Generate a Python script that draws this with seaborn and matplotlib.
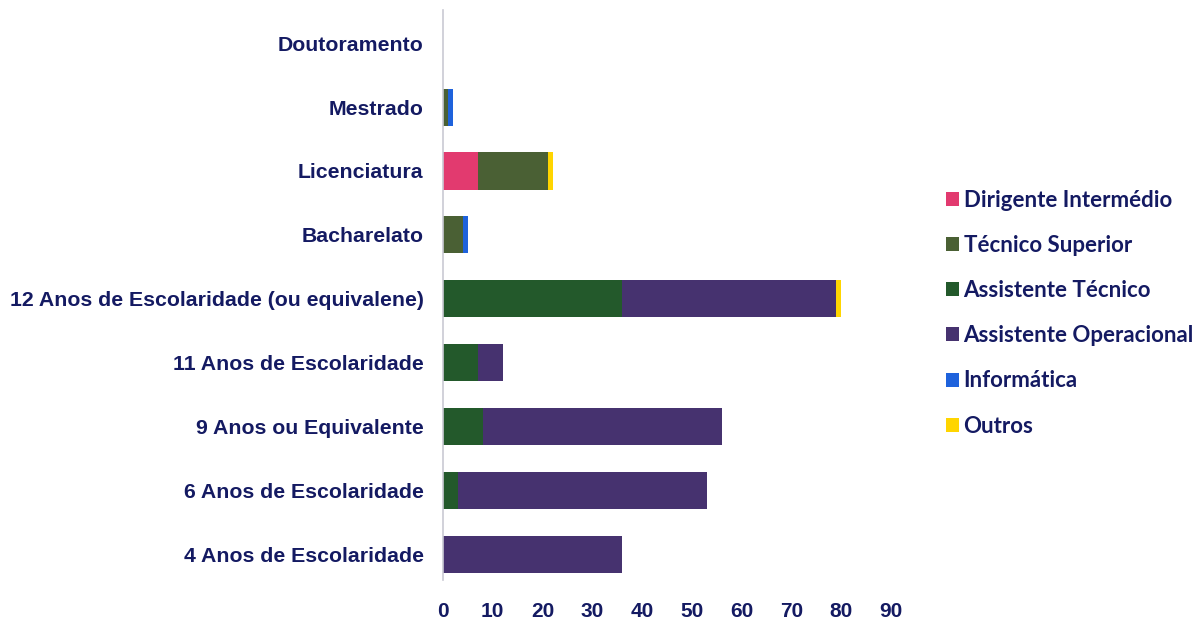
import numpy as np
import pandas as pd
import matplotlib
matplotlib.use("Agg")
import matplotlib.pyplot as plt
from matplotlib.patches import Patch
import seaborn as sns

# Education levels, top to bottom
categories = [
    "Doutoramento",
    "Mestrado",
    "Licenciatura",
    "Bacharelato",
    "12 Anos de Escolaridade (ou equivalene)",
    "11 Anos de Escolaridade",
    "9 Anos ou Equivalente",
    "6 Anos de Escolaridade",
    "4 Anos de Escolaridade",
]

series_names = [
    "Dirigente Intermédio",
    "Técnico Superior",
    "Assistente Técnico",
    "Assistente Operacional",
    "Informática",
    "Outros",
]

dirigente_intermedio = [0, 0, 7, 0, 0, 0, 0, 0, 0]
tecnico_superior = [0, 1, 14, 4, 0, 0, 0, 0, 0]
assistente_tecnico = [0, 0, 0, 0, 36, 7, 8, 3, 0]
assistente_operacional = [0, 0, 0, 0, 43, 5, 48, 50, 36]
informatica = [0, 1, 0, 1, 0, 0, 0, 0, 0]
outros = [0, 0, 1, 0, 1, 0, 0, 0, 0]

x_ticks = [0, 10, 20, 30, 40, 50, 60, 70, 80, 90]

series_values = [dirigente_intermedio, tecnico_superior, assistente_tecnico,
                 assistente_operacional, informatica, outros]
colors = ["#e23a6f", "#4a6034", "#23592b", "#46326f", "#1e62dc", "#ffd500"]
text_color = "#141a62"

sns.set_theme(style="white")
plt.rcParams["font.family"] = ["Liberation Sans", "DejaVu Sans"]

fig = plt.figure(figsize=(11.93, 6.21), dpi=100)
ax = fig.add_axes([0.3713, 0.066, 0.3757, 0.918])

# Stacked bars: draw cumulative totals from the outermost segment inward
cum = np.cumsum(np.array(series_values), axis=0)
for i in range(len(series_names) - 1, -1, -1):
    df = pd.DataFrame({"category": categories, "value": cum[i]})
    sns.barplot(data=df, x="value", y="category", order=categories,
                orient="h", color=colors[i], saturation=1, width=0.58,
                linewidth=0, ax=ax)

ax.set_xlim(0, 90)
ax.set_ylim(8.4, -0.52)
ax.set_xticks(x_ticks)
ax.set_xticklabels([str(t) for t in x_ticks])
ax.set_xlabel("")
ax.set_ylabel("")
for side in ["top", "right", "bottom"]:
    ax.spines[side].set_visible(False)
ax.spines["left"].set_color("#c9c9d3")
ax.spines["left"].set_linewidth(1.2)
ax.tick_params(axis="both", length=0, colors=text_color)
ax.tick_params(axis="x", pad=16)
ax.tick_params(axis="y", pad=14)
for lbl in ax.get_yticklabels():
    lbl.set_fontweight("bold")
    lbl.set_fontsize(15.3)
    lbl.set_color(text_color)
for lbl in ax.get_xticklabels():
    lbl.set_fontweight("bold")
    lbl.set_fontsize(15)
    lbl.set_color(text_color)

handles = [Patch(facecolor=c, edgecolor="none") for c in colors]
leg = fig.legend(handles, series_names, loc="upper left",
                 bbox_to_anchor=(0.776, 0.727), frameon=False,
                 handlelength=0.6, handleheight=0.6, handletextpad=0.2,
                 labelspacing=1.09,
                 prop={"family": ["Lato", "DejaVu Sans"], "weight": "bold", "size": 16})
for t in leg.get_texts():
    t.set_color(text_color)

fig.savefig("out.png", dpi=100, facecolor="white")
